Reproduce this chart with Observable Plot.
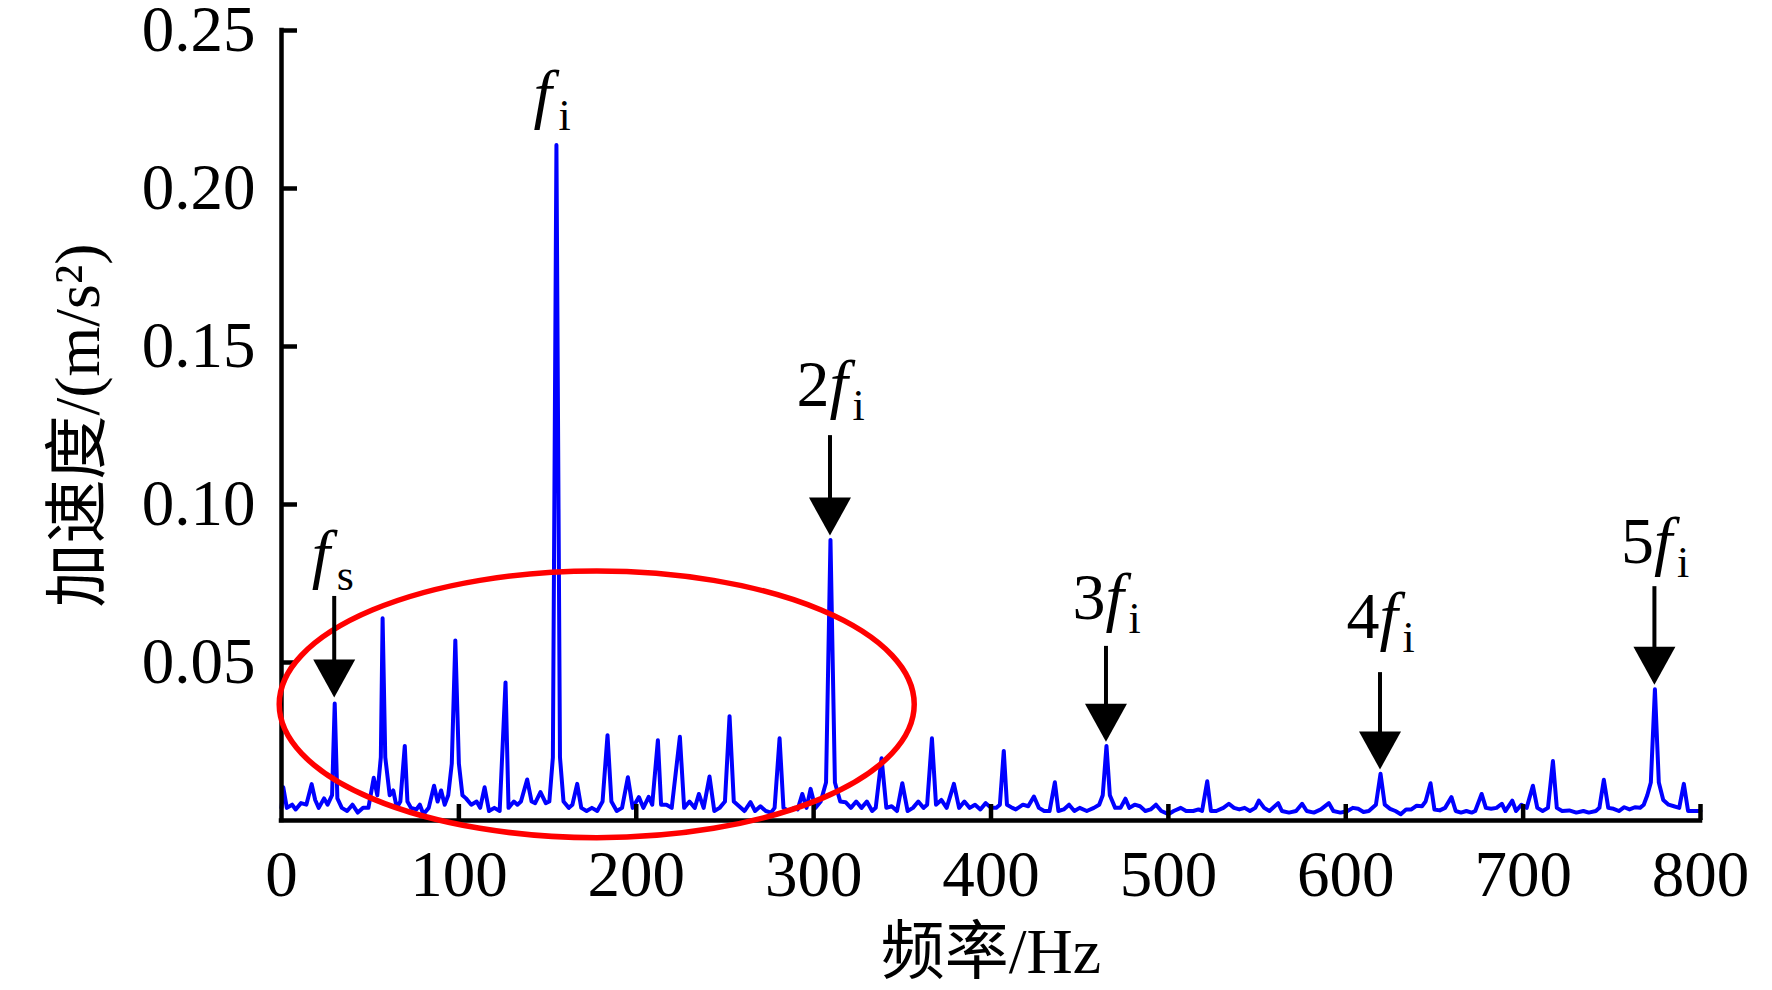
<!DOCTYPE html>
<html><head><meta charset="utf-8">
<script src="https://cdn.jsdelivr.net/npm/d3@7"></script>
<script src="https://cdn.jsdelivr.net/npm/@observablehq/plot@0.6"></script>
<style>html,body{margin:0;padding:0;background:#fff;} #chart svg{display:block;}</style>
</head><body><div id="chart"></div>
<script>
// Spectrum [frequency Hz, acceleration m/s^2]
const spectrum0to200 = [[0,0.004],[1,0.0105],[3,0.004],[6,0.005],[8,0.0035],[11,0.0055],[14,0.005],[17,0.0115],[19,0.0065],[21,0.004],[24,0.007],[26,0.005],[28.5,0.008],[30,0.037],[31.5,0.007],[34,0.004],[37,0.003],[40,0.005],[43,0.0025],[46,0.004],[49,0.004],[52,0.0135],[54,0.008],[56,0.02],[57,0.064],[58.5,0.02],[61,0.008],[63,0.0095],[65,0.004],[67,0.006],[69.5,0.0236],[71,0.006],[73,0.004],[76,0.0035],[78,0.005],[80,0.002],[83,0.004],[86,0.011],[88,0.006],[90,0.0095],[92,0.005],[94,0.008],[96,0.018],[98,0.057],[100,0.018],[102,0.008],[104,0.007],[107,0.005],[110,0.006],[112,0.004],[114.5,0.0105],[117,0.003],[120,0.004],[123,0.003],[126.3,0.0437],[128,0.004],[131,0.006],[133,0.005],[135,0.006],[138.5,0.013],[141,0.006],[143,0.0055],[146,0.009],[149,0.0055],[151,0.006],[153,0.02],[155,0.2138],[157,0.02],[159,0.006],[162,0.004],[164,0.005],[166.7,0.0116],[169,0.004],[172,0.003],[175,0.004],[178,0.003],[181,0.006],[183.8,0.027],[186,0.006],[189,0.003],[192,0.004],[195.3,0.0137],[198,0.004]];
const spectrum200to400 = [[201.5,0.0074],[204,0.004],[207,0.0075],[209,0.005],[212.2,0.0254],[214,0.005],[217,0.005],[220,0.004],[224.6,0.0265],[227,0.004],[230,0.006],[233,0.004],[235.3,0.0084],[238,0.004],[241.3,0.0139],[244,0.003],[247,0.004],[250,0.006],[252.6,0.033],[255,0.006],[258,0.0045],[261,0.003],[264.4,0.0058],[267,0.003],[270,0.0045],[273,0.003],[276,0.0025],[278,0.004],[280.8,0.026],[283,0.004],[286,0.003],[289,0.004],[291,0.0035],[293.6,0.0084],[296,0.004],[298.3,0.010],[301,0.004],[304,0.006],[307,0.012],[309.5,0.0888],[312,0.012],[315,0.006],[318,0.0058],[321,0.004],[324,0.006],[327,0.004],[330,0.006],[333,0.003],[335,0.004],[338.3,0.0197],[341,0.004],[344,0.0045],[347,0.003],[350,0.0118],[353,0.003],[356,0.004],[359,0.006],[362,0.004],[364,0.005],[366.7,0.026],[369,0.005],[372,0.0065],[375,0.004],[379.1,0.0116],[382,0.004],[385,0.006],[388,0.004],[391,0.005],[394,0.0035],[397,0.0055],[400,0.004]];
const spectrum400to600 = [[403,0.004],[405,0.005],[407.2,0.022],[409,0.005],[412,0.004],[414,0.0035],[418,0.005],[421,0.0045],[424.2,0.0076],[427,0.004],[430,0.003],[433,0.003],[436,0.0121],[438,0.003],[441,0.0035],[444,0.005],[447,0.003],[450,0.004],[454,0.003],[458,0.004],[461,0.005],[463,0.008],[465.1,0.0236],[467,0.008],[470,0.004],[473,0.004],[475.8,0.0069],[478,0.004],[481,0.005],[484,0.0045],[487,0.003],[490,0.0035],[493,0.005],[496,0.003],[500,0.002],[503,0.003],[507,0.004],[510,0.003],[514,0.003],[517,0.0035],[519,0.003],[521.9,0.0124],[524,0.003],[527,0.003],[531,0.004],[534.1,0.0053],[537,0.004],[540,0.0035],[543,0.004],[546,0.003],[549,0.004],[551,0.0063],[554,0.004],[557,0.003],[559,0.004],[561.9,0.0055],[564,0.003],[568,0.0025],[572,0.003],[575.4,0.0053],[578,0.003],[582,0.0025],[586,0.0035],[590.5,0.0055],[593,0.003],[597,0.0025],[601,0.003],[604,0.004]];
const spectrum600to800 = [[607,0.0037],[610,0.0027],[613,0.003],[617,0.005],[619.6,0.0148],[622,0.005],[625,0.0037],[628,0.003],[631,0.002],[634,0.0035],[637,0.0035],[640,0.0047],[643,0.0045],[645,0.006],[647.8,0.0118],[650,0.0035],[653,0.0032],[656,0.004],[659.6,0.0074],[662,0.003],[665,0.0025],[668,0.003],[671,0.0025],[673,0.003],[676.6,0.0084],[679,0.004],[682,0.0037],[685,0.004],[688,0.0053],[690,0.003],[693.9,0.0063],[696,0.003],[699,0.005],[702,0.004],[705.5,0.011],[708,0.004],[711,0.003],[714,0.004],[716.8,0.0188],[719,0.004],[722,0.003],[726,0.0032],[730,0.0025],[734,0.003],[737,0.0025],[741,0.003],[743,0.004],[745.5,0.0129],[748,0.004],[751,0.0037],[754,0.003],[757,0.0042],[760,0.0035],[763,0.0042],[766,0.004],[768,0.005],[770,0.008],[772,0.012],[774.3,0.0415],[776.5,0.012],[779,0.0065],[782,0.005],[785,0.0045],[788,0.004],[790.6,0.0116],[793,0.003],[796,0.003],[800,0.003]];

const xTicks = [0, 100, 200, 300, 400, 500, 600, 700, 800];
const yTicks = [0.05, 0.10, 0.15, 0.20, 0.25];

// Peak annotations
const annPrefix = ["", "", "2", "3", "4", "5"];
const annSub = ["s", "i", "i", "i", "i", "i"];
const annFreq = [30, 155, 309.5, 465.1, 619.6, 774.3];
const annLabelY = [0.0775, 0.2228, 0.1313, 0.0639, 0.0576, 0.0816];
const annTailY = [0.0709, null, 0.1218, 0.0551, 0.0468, 0.074];
const annTipY = [0.0388, null, 0.0900, 0.0248, 0.0160, 0.0428];

// Highlight ellipse (centre and radii in data units)
const ellipseCenter = [178, 0.0366];
const ellipseRadii = [179, 0.0422];

const spectrum = [...spectrum0to200, ...spectrum200to400, ...spectrum400to600, ...spectrum600to800]
  .map(([f, a]) => ({f, a}));
const annots = annFreq.map((f, i) => ({f, prefix: annPrefix[i], sub: annSub[i], ly: annLabelY[i], tail: annTailY[i], tip: annTipY[i]}));
const arrows = annots.filter(d => d.tail != null);
const withPrefix = annots.filter(d => d.prefix);
const noPrefix = annots.filter(d => !d.prefix);

const W = 1772, H = 990, ML = 281, MR = 72, MT = 30, MB = 170;
const frameW = W - ML - MR, frameH = H - MT - MB;
const TICK = 16;

const ellipseMark = (index, {x, y}) => {
  const [cx, cy] = ellipseCenter, [rx, ry] = ellipseRadii;
  return d3.create("svg:ellipse")
    .attr("cx", x(cx)).attr("cy", y(cy))
    .attr("rx", Math.abs(x(cx + rx) - x(cx))).attr("ry", Math.abs(y(cy + ry) - y(cy)))
    .attr("fill", "none").attr("stroke", "#ff0000").attr("stroke-width", 5.5)
    .node();
};

const arrowMark = (index, {x, y}) => {
  const g = d3.create("svg:g");
  const headW = 42, headH = 38;
  for (const a of arrows) {
    const px = x(a.f), pt = y(a.tip), pb = y(a.tail);
    g.append("line").attr("x1", px).attr("x2", px).attr("y1", pb).attr("y2", pt - headH + 4)
      .attr("stroke", "black").attr("stroke-width", 4);
    g.append("path").attr("d", `M${px - headW / 2},${pt - headH}L${px + headW / 2},${pt - headH}L${px},${pt}Z`)
      .attr("fill", "black");
  }
  return g.node();
};

const chart = Plot.plot({
  width: W, height: H,
  marginLeft: ML, marginRight: MR, marginTop: MT, marginBottom: MB,
  x: {domain: [0, 800]},
  y: {domain: [0, 0.25]},
  style: {fontFamily: "'Liberation Serif', 'Noto Sans CJK SC', serif", fontSize: "65px", color: "black", background: "white", overflow: "visible"},
  marks: [
    Plot.line(spectrum, {x: "f", y: "a", stroke: "#0000ff", strokeWidth: 4, strokeLinejoin: "round"}),
    Plot.ruleY([0], {stroke: "black", strokeWidth: 4.5, strokeLinecap: "square"}),
    Plot.ruleX([0], {stroke: "black", strokeWidth: 4.5, strokeLinecap: "square"}),
    Plot.ruleX(xTicks.slice(1), {stroke: "black", strokeWidth: 4.5, insetTop: frameH - TICK}),
    Plot.ruleY(yTicks, {stroke: "black", strokeWidth: 4.5, insetRight: frameW - TICK}),
    Plot.axisX(xTicks, {tickSize: 0, tickPadding: 29, fontSize: 65, label: null, tickFormat: d => String(d)}),
    Plot.axisY(yTicks, {tickSize: 0, tickPadding: 26, fontSize: 65, label: null, tickFormat: d3.format(".2f")}),
    Plot.text(["加速度/(m/s²)"], {frameAnchor: "left", textAnchor: "middle", rotate: -90, dx: -203, fontSize: 64, fill: "black"}),
    Plot.text(["频率/Hz"], {frameAnchor: "bottom", textAnchor: "middle", lineAnchor: "middle", dy: 132, fontSize: 64, fill: "black"}),
    ellipseMark,
    arrowMark,
    Plot.text(withPrefix, {x: "f", y: "ly", text: "prefix", textAnchor: "end", lineAnchor: "bottom", dx: -1, fontSize: 66, fill: "black"}),
    Plot.text(withPrefix, {x: "f", y: "ly", text: () => "f", textAnchor: "start", lineAnchor: "bottom", dx: -1, fontSize: 66, fontStyle: "italic", fill: "black"}),
    Plot.text(withPrefix, {x: "f", y: "ly", text: "sub", textAnchor: "start", lineAnchor: "bottom", dx: 22, dy: 14, fontSize: 44, fill: "black"}),
    Plot.text(noPrefix, {x: "f", y: "ly", text: () => "f", textAnchor: "start", lineAnchor: "bottom", dx: -23, fontSize: 66, fontStyle: "italic", fill: "black"}),
    Plot.text(noPrefix, {x: "f", y: "ly", text: "sub", textAnchor: "start", lineAnchor: "bottom", dx: 2, dy: 14, fontSize: 44, fill: "black"})
  ]
});
document.getElementById("chart").append(chart);
</script>
</body></html>
